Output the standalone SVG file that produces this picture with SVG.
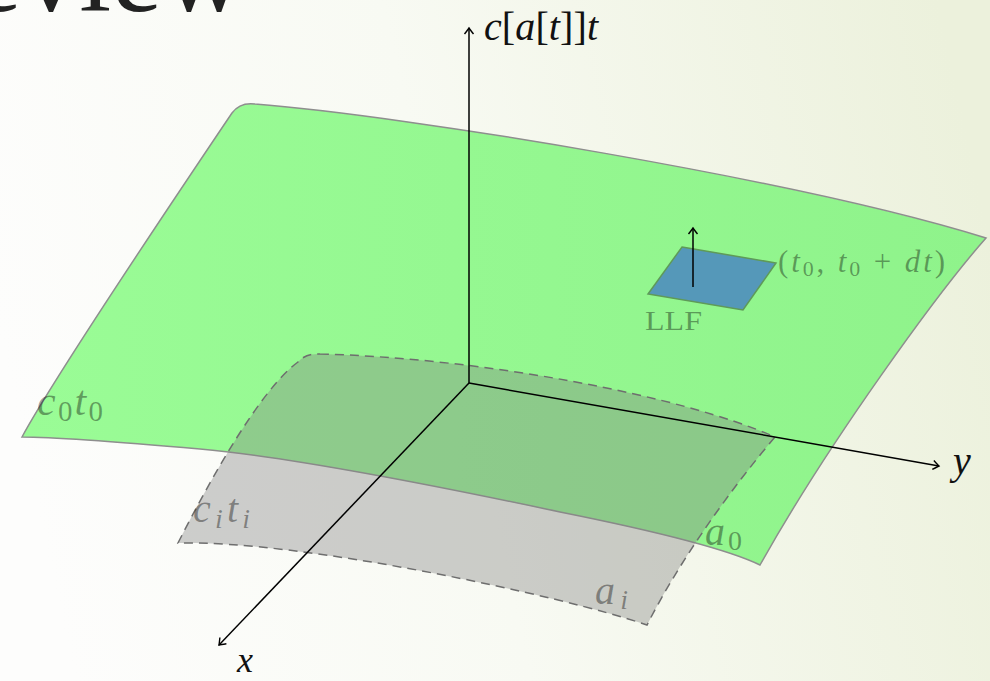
<svg xmlns="http://www.w3.org/2000/svg" width="990" height="681" viewBox="0 0 990 681">
<defs>
<linearGradient id="bg" x1="0" y1="0.5" x2="1" y2="0.35">
<stop offset="0" stop-color="#fdfdfc"/>
<stop offset="0.45" stop-color="#f8faf3"/>
<stop offset="1" stop-color="#ecf1dc"/>
</linearGradient>
<linearGradient id="gr" x1="0" y1="0" x2="1" y2="0">
<stop offset="0" stop-color="#9afc96"/>
<stop offset="1" stop-color="#8ff38b"/>
</linearGradient>
<marker id="arr" viewBox="-8 -6 10 12" refX="0" refY="0" markerWidth="10" markerHeight="12" markerUnits="userSpaceOnUse" orient="auto">
<path d="M-6,-4.5 Q-1.5,-1 0,0 Q-1.5,1 -6,4.5" fill="none" stroke="#000" stroke-width="1.4"/>
</marker>
<style>
.ax{fill:none;stroke:#000;stroke-width:1.5;marker-end:url(#arr)}
.m{font-family:"Liberation Serif","DejaVu Serif",serif;font-style:italic;fill:#111}
.lab{font-family:"Liberation Serif","DejaVu Serif",serif;font-style:italic;fill:#000;fill-opacity:0.38}
.up{font-style:normal}
</style>
</defs>
<rect width="990" height="681" fill="url(#bg)"/>
<text x="-106" y="11" font-family="Liberation Serif, serif" font-size="115" fill="#222">Review</text>
<g id="surface-c0">
<path d="M255,104 C400,115 800,180 986,238 C940,290 830,440 760,565 C725,548 640,528 560,512 C480,495 300,458 200,449 C120,442 50,437 22,437 C50,385 170,205 232,113 Q240,102 255,104 Z" fill="url(#gr)" stroke="#8e8e8e" stroke-width="1.5"/>
</g>
<g id="surface-ci">
<path d="M320,354 C480,358 680,395 775,437 C730,490 680,560 647,625 C560,595 300,540 178,543 C210,480 260,390 298,362 Q306,353 320,354 Z" fill="#808080" fill-opacity="0.38" stroke="#6e6e6e" stroke-width="1.5" stroke-dasharray="9,6"/>
</g>
<g id="llf">
<path d="M682,247 L776,263 L743,310 L648,294 Z" fill="#5598b9" stroke="#5f9a58" stroke-width="1.5"/>
</g>
<g id="connectors">
<path class="ax" d="M469,383 L469,28"/>
<path class="ax" d="M469,383 L939,466"/>
<path class="ax" d="M469,383 L219,645"/>
<path class="ax" d="M693,287 L693,228"/>
</g>
<g id="labels">
<text class="m" x="484" y="40" font-size="40" textLength="114" lengthAdjust="spacing">c<tspan class="up">[</tspan>a<tspan class="up">[</tspan>t<tspan class="up">]]</tspan>t</text>
<text class="m" x="953" y="474" font-size="40">y</text>
<text class="m" x="237" y="672" font-size="36">x</text>
<text class="lab" x="37" y="415" font-size="42" textLength="66" lengthAdjust="spacing">c<tspan class="up" font-size="29" dy="6">0</tspan><tspan dy="-6">t</tspan><tspan class="up" font-size="29" dy="6">0</tspan></text>
<text class="lab" x="193" y="522" font-size="40" textLength="57" lengthAdjust="spacing">c<tspan font-size="28" dy="6">i</tspan><tspan dy="-6">t</tspan><tspan font-size="28" dy="6">i</tspan></text>
<text class="lab" x="705" y="545" font-size="40" textLength="37" lengthAdjust="spacing">a<tspan class="up" font-size="28" dy="5">0</tspan></text>
<text class="lab" x="595" y="604" font-size="40" textLength="33" lengthAdjust="spacing">a<tspan font-size="28" dy="5">i</tspan></text>
<text class="lab" x="778" y="272" font-size="31" textLength="167" lengthAdjust="spacing"><tspan class="up">(</tspan>t<tspan class="up" font-size="22" dy="4">0</tspan><tspan class="up" dy="-4">, </tspan>t<tspan class="up" font-size="22" dy="4">0</tspan><tspan class="up" dy="-4"> + </tspan>dt<tspan class="up">)</tspan></text>
<text class="lab" x="645" y="330" font-size="27" textLength="57" lengthAdjust="spacingAndGlyphs" style="font-style:normal">LLF</text>
</g>
</svg>
